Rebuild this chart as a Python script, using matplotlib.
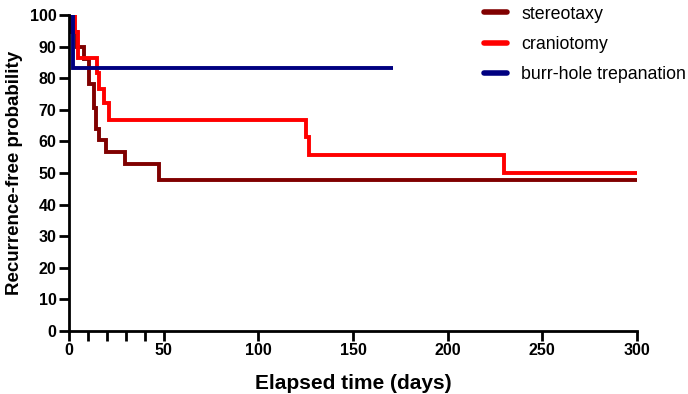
import numpy as np
import matplotlib
matplotlib.use('Agg')
import matplotlib.pyplot as plt

plt.rcParams['font.family'] = ['Liberation Sans', 'DejaVu Sans']

# Kaplan-Meier steps (time in days, probability in %)
stereo_t = [0, 1, 4, 8, 10.5, 13, 14.5, 16, 19.5, 29.5, 47.5, 300]
stereo_p = [100, 94.7, 90, 86, 78, 70.5, 64, 60.4, 56.5, 52.7, 47.9, 47.9]

cranio_t = [0, 3, 5, 14.6, 16, 18.5, 21, 125, 127, 230, 300]
cranio_p = [100, 94.7, 86.4, 81.5, 76.5, 72, 66.7, 61.5, 55.6, 50, 50]

burr_t = [0, 2, 171]
burr_p = [100, 83.3, 83.3]

series = [
    ('stereotaxy', stereo_t, stereo_p, '#800000'),
    ('craniotomy', cranio_t, cranio_p, '#ff0000'),
    ('burr-hole trepanation', burr_t, burr_p, '#000080'),
]

fig = plt.figure(figsize=(6.88, 3.94), dpi=100)
ax = fig.add_axes([0.1003, 0.16, 0.8256, 0.802])

for name, t, p, c in series:
    ax.plot(t, p, drawstyle='steps-post', color=c, lw=2.8, label=name,
            solid_capstyle='butt', solid_joinstyle='miter')

ax.set_xlim(0, 300)
ax.set_ylim(0, 100)
ax.set_xticks([0, 10, 20, 30, 40, 50, 100, 150, 200, 250, 300])
ax.set_xticklabels(['0', '', '', '', '', '50', '100', '150', '200', '250', '300'])
ax.set_yticks(np.arange(0, 101, 10))

for s in ['top', 'right']:
    ax.spines[s].set_visible(False)
for s in ['left', 'bottom']:
    ax.spines[s].set_linewidth(2)
ax.tick_params(width=2, length=7, labelsize=11.5, pad=2)
for lbl in ax.get_xticklabels() + ax.get_yticklabels():
    lbl.set_fontweight('bold')

ax.set_xlabel('Elapsed time (days)', fontsize=15, fontweight='bold', labelpad=11)
ax.set_ylabel('Recurrence-free probability', fontsize=13.5, fontweight='bold', labelpad=5)

leg = ax.legend(loc='upper left', bbox_to_anchor=(0.702, 1.08), frameon=False,
                fontsize=12.8, handlelength=1.3, handletextpad=0.8, labelspacing=0.75)
for h in leg.get_lines():
    h.set_linewidth(4)
    h.set_solid_capstyle('round')

fig.savefig('out.png', dpi=100)
